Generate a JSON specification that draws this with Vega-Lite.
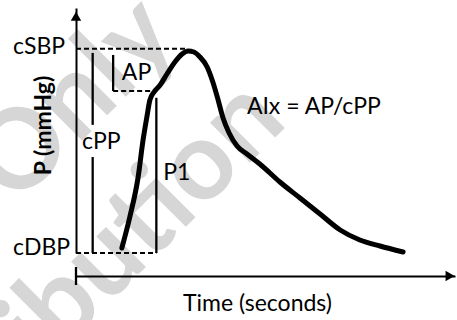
{
  "$schema": "https://vega.github.io/schema/vega-lite/v6.json",
  "width": 379,
  "height": 245,
  "autosize": {"type": "none"},
  "padding": {"left": 76, "top": 8, "right": 2, "bottom": 67},
  "background": "white",
  "config": {"view": {"stroke": null}, "font": "Lato"},
  "encoding": {
    "x": {"field": "t", "type": "quantitative", "scale": {"domain": [0, 1], "nice": false, "zero": false},
      "axis": {"title": "Time (seconds)", "offset": 23, "zindex": 1, "domain": true, "domainColor": "black", "domainWidth": 2, "ticks": false, "labels": false, "grid": false,
        "titleFont": "Lato", "titleFontSize": 23, "titleFontWeight": "normal", "titleColor": "black", "titleX": 181, "titleY": 27, "titleAlign": "center", "titleBaseline": "middle"}},
    "y": {"field": "p", "type": "quantitative", "scale": {"domain": [80, 128], "nice": false, "zero": false},
      "axis": {"title": "P (mmHg)", "zindex": 1, "domain": true, "domainColor": "black", "domainWidth": 2, "ticks": false, "labels": false, "grid": false,
        "titleFont": "Lato", "titleFontSize": 23, "titleFontWeight": "bold", "titleColor": "black", "titleX": -33, "titleY": 117, "titleAngle": -90, "titleAlign": "center", "titleBaseline": "middle"}}
  },
  "layer": [
    {
      "data": {"values": [
        {"word": "Only", "t": -0.003, "p": 109.8},
        {"word": "distribution", "t": -0.03, "p": 70.5}
      ]},
      "mark": {"type": "text", "angle": -45, "fontSize": 110, "font": "Lato", "fontWeight": "bold", "color": "#d6d6d6", "align": "center", "baseline": "middle"},
      "encoding": {"text": {"field": "word"}}
    },
    {
      "data": {"values": [
        {"name": "cSBP level", "t": 0, "t2": 0.293, "p": 120, "p2": 120},
        {"name": "AP level", "t": 0.098, "t2": 0.212, "p": 111.74, "p2": 111.74},
        {"name": "cDBP level", "t": 0, "t2": 0.212, "p": 80, "p2": 80}
      ]},
      "mark": {"type": "rule", "color": "black", "strokeWidth": 2, "strokeDash": [5, 3]},
      "encoding": {"x2": {"field": "t2"}, "y2": {"field": "p2"}}
    },
    {
      "data": {"values": [
        {"name": "cPP upper", "t": 0.044, "t2": 0.044, "p": 119.2, "p2": 105.1},
        {"name": "cPP lower", "t": 0.044, "t2": 0.044, "p": 98.8, "p2": 80},
        {"name": "AP", "t": 0.098, "t2": 0.098, "p": 118.8, "p2": 111.74},
        {"name": "P1", "t": 0.212, "t2": 0.212, "p": 110.4, "p2": 80},
        {"name": "x origin tick", "t": 0, "t2": 0, "p": 77.26, "p2": 73.73}
      ]},
      "mark": {"type": "rule", "color": "black", "strokeWidth": 2.3},
      "encoding": {"x2": {"field": "t2"}, "y2": {"field": "p2"}}
    },
    {
      "data": {"values": [
        {"dir": "up", "t": 0, "p": 126.4},
        {"dir": "right", "t": 0.987, "p": 75.49}
      ]},
      "mark": {"type": "point", "filled": true, "color": "black", "opacity": 1, "size": 110},
      "encoding": {"shape": {"field": "dir", "type": "nominal", "scale": {"domain": ["up", "right"], "range": ["triangle-up", "triangle-right"]}, "legend": null}}
    },
    {
      "data": {"values": [
        {"t": 0.121, "p": 80.98},
        {"t": 0.142, "p": 87.05},
        {"t": 0.164, "p": 94.89},
        {"t": 0.177, "p": 102.14},
        {"t": 0.187, "p": 106.65},
        {"t": 0.195, "p": 109.98},
        {"t": 0.206, "p": 111.54},
        {"t": 0.222, "p": 112.92},
        {"t": 0.240, "p": 115.07},
        {"t": 0.261, "p": 117.42},
        {"t": 0.280, "p": 118.99},
        {"t": 0.296, "p": 119.58},
        {"t": 0.311, "p": 119.38},
        {"t": 0.327, "p": 118.40},
        {"t": 0.346, "p": 116.44},
        {"t": 0.361, "p": 113.50},
        {"t": 0.375, "p": 109.98},
        {"t": 0.388, "p": 106.45},
        {"t": 0.404, "p": 103.51},
        {"t": 0.425, "p": 100.96},
        {"t": 0.451, "p": 99.40},
        {"t": 0.485, "p": 97.44},
        {"t": 0.538, "p": 93.91},
        {"t": 0.591, "p": 90.78},
        {"t": 0.644, "p": 87.64},
        {"t": 0.697, "p": 84.51},
        {"t": 0.749, "p": 82.55},
        {"t": 0.802, "p": 81.37},
        {"t": 0.863, "p": 80.20}
      ]},
      "mark": {"type": "line", "color": "black", "strokeWidth": 5, "interpolate": "monotone", "strokeCap": "round"},
      "encoding": {}
    },
    {
      "data": {"values": [
        {"label": "cSBP", "t": -0.166, "p": 120.3},
        {"label": "cDBP", "t": -0.166, "p": 81},
        {"label": "cPP", "t": 0.016, "p": 101.75},
        {"label": "AP", "t": 0.121, "p": 115.27},
        {"label": "P1", "t": 0.230, "p": 95.67},
        {"label": "AIx = AP/cPP", "t": 0.451, "p": 108.6}
      ]},
      "mark": {"type": "text", "font": "Lato", "fontSize": 23, "color": "black", "align": "left", "baseline": "middle"},
      "encoding": {"text": {"field": "label"}}
    }
  ]
}
